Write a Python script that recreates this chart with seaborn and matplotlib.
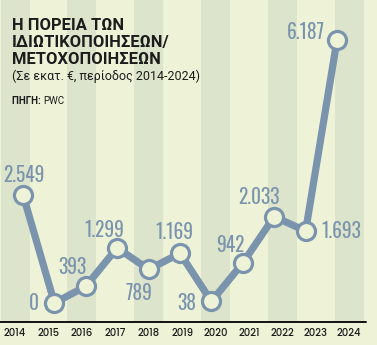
import matplotlib
matplotlib.use("Agg")
import matplotlib.pyplot as plt
import seaborn as sns
import pandas as pd

# ---- data ----
years = ["2014", "2015", "2016", "2017", "2018", "2019", "2020", "2021", "2022", "2023", "2024"]
values = [2549, 0, 393, 1299, 789, 1169, 38, 942, 2033, 1693, 6187]
value_labels = ["2.549", "0", "393", "1.299", "789", "1.169", "38", "942", "2.033", "1.693", "6.187"]
title_lines = ["Η ΠΟΡΕΙΑ ΤΩΝ", "ΙΔΙΩΤΙΚΟΠΟΙΗΣΕΩΝ/", "ΜΕΤΟΧΟΠΟΙΗΣΕΩΝ"]
subtitle = "(Σε εκατ. €, περίοδος 2014-2024)"
source_bold = "ΠΗΓΗ:"
source_text = "PWC"

# label offsets (points) relative to each marker, and alignment
label_offsets = [(1, 14), (-11, 0), (-10, 14), (-9, 13), (-7, -17), (-4, 15), (-11, -1), (-9, 13), (-11, 14), (11, 0), (-9, 6)]
label_ha = ["center", "right", "center", "center", "center", "center", "right", "center", "center", "left", "right"]

BG = "#eef3d8"
BAND = "#dce4cb"
LINE = "#7b94ad"
TEXT = "#1c1c1c"

df = pd.DataFrame({"idx": list(range(len(years))), "value": values})

sns.set_theme(style="white")
plt.rcParams["font.family"] = ["Roboto", "DejaVu Sans"]

W, H = 377, 345
fig = plt.figure(figsize=(W / 100, H / 100), dpi=100, facecolor=BG)
ax = fig.add_axes([0, 23 / H, 1, 322 / H])
ax.set_facecolor(BG)

# pixel geometry
px0, pstep = 23, 31.4       # point positions
lx0, lstep = 15, 33.4       # label / band positions
ax.set_xlim(-px0 / pstep, (W - px0) / pstep)
yscale = 0.0425
ax.set_ylim(-19 / yscale, 303 / yscale)

tick_pos = [(lx0 - px0) / pstep + i * lstep / pstep for i in range(len(years))]
band_w = 29 / pstep
for i, t in enumerate(tick_pos):
    if i % 2 == 0:
        ax.axvspan(t - band_w / 2, t + band_w / 2, color=BAND, lw=0, zorder=0)

sns.lineplot(data=df, x="idx", y="value", ax=ax, color=LINE, linewidth=5.2,
             marker="o", markersize=13, markerfacecolor=BG, markeredgecolor=LINE,
             markeredgewidth=2.3, zorder=3, solid_joinstyle="round")

cond = ["Oswald", "Barlow Condensed", "DejaVu Sans"]
for i, (v, lab) in enumerate(zip(values, value_labels)):
    ax.annotate(lab, (i, v), xytext=label_offsets[i], textcoords="offset points",
                ha=label_ha[i], va="center", fontsize=14, color=LINE,
                family=cond, fontweight="light", zorder=4)

ax.axhline(ax.get_ylim()[0], xmin=0, xmax=366 / W, color="#111111", lw=1.4, zorder=5, clip_on=False)

ax.set_xticks(tick_pos)
ax.set_xticklabels(years, fontsize=7.2, color=TEXT, fontweight="medium",
                   family=["Poppins", "Roboto"])
ax.tick_params(axis="x", length=0, pad=4)
ax.set_yticks([])
ax.set_xlabel("")
ax.set_ylabel("")
for s in ax.spines.values():
    s.set_visible(False)

# title block
for k, line in enumerate(title_lines):
    fig.text(12 / W, 1 - (25 + k * 17.5) / H, line, fontsize=11.9, fontweight="bold",
             color=TEXT, ha="left", va="center")
fig.text(12 / W, 1 - 76 / H, subtitle, fontsize=9.0, color=TEXT, ha="left", va="center")
t1 = fig.text(12 / W, 1 - 101 / H, source_bold + " ", fontsize=7, fontweight="bold",
              color=TEXT, ha="left", va="center")
fig.canvas.draw()
bb = t1.get_window_extent()
fig.text(bb.x1 / (W), 1 - 101 / H, source_text, fontsize=7, color=TEXT, ha="left", va="center")

fig.savefig("out.png", dpi=100, facecolor=BG)
